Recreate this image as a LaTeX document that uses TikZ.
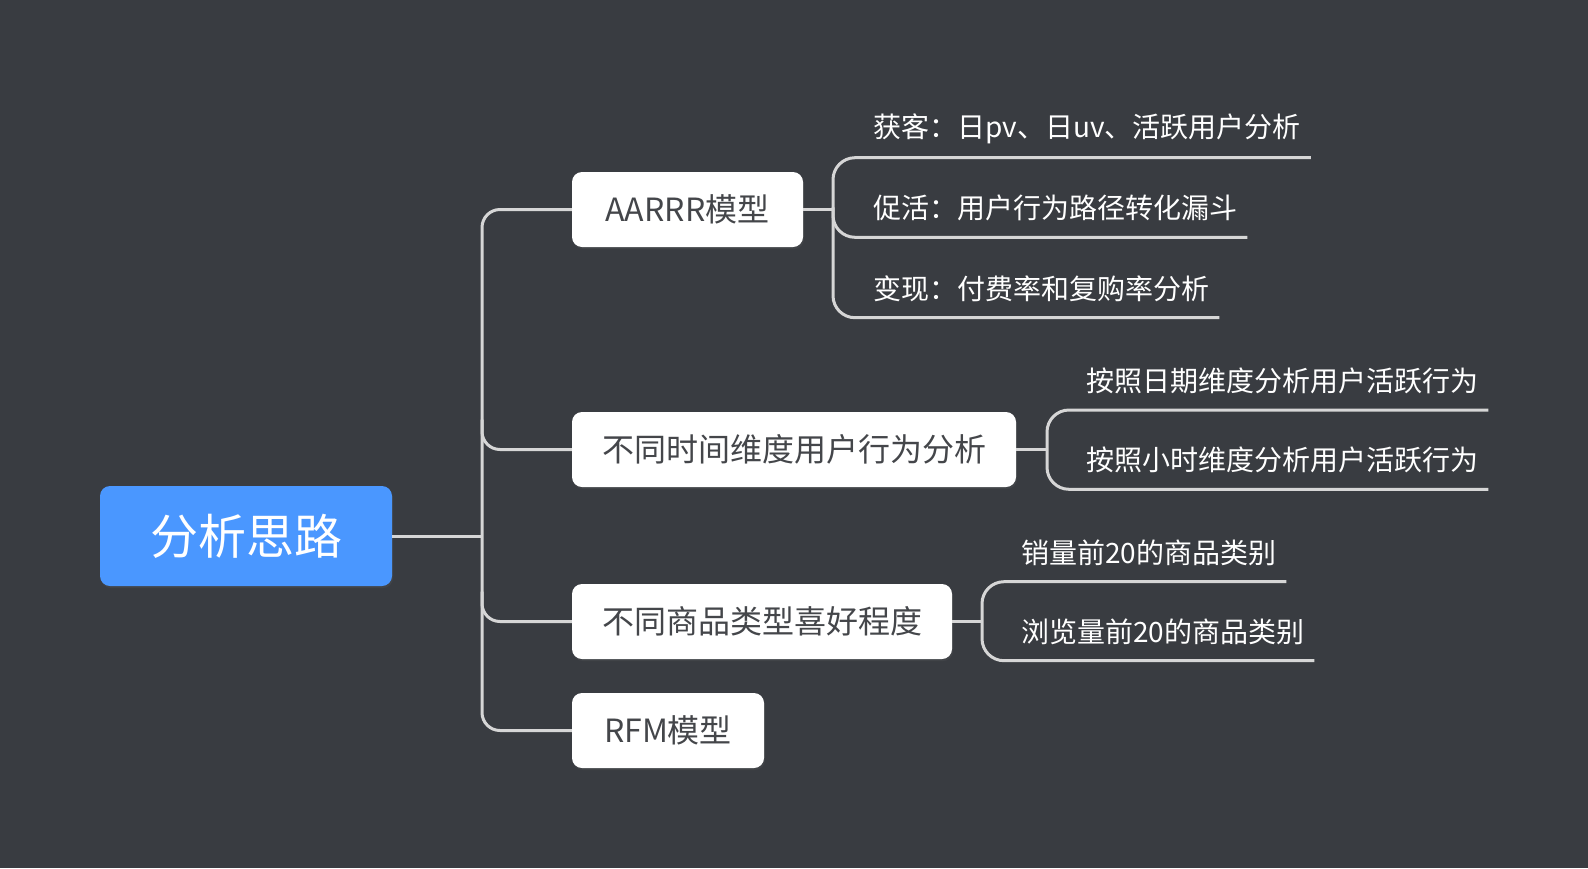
\documentclass[tikz,border=0pt]{standalone}
\usepackage{fontspec}
\setmainfont{Noto Sans CJK SC}
\usetikzlibrary{shadows}
\definecolor{bgcol}{RGB}{57,60,65}
\definecolor{rootblue}{RGB}{74,151,255}
\definecolor{linegray}{RGB}{214,214,214}
\definecolor{boxtext}{RGB}{68,70,74}
\begin{document}
\begin{tikzpicture}[x=1pt,y=-1pt,
  conn/.style={draw=linegray, line width=3pt},
  rootbox/.style={fill=rootblue, rounded corners=10pt, minimum width=292pt, minimum height=100pt, text=white, font=\fontsize{48}{56}\selectfont, inner sep=0pt, drop shadow={opacity=0.12, shadow xshift=1pt, shadow yshift=-2pt}},
  topic/.style={fill=white, rounded corners=10pt, minimum height=75pt, text=boxtext, font=\fontsize{32}{38}\selectfont, inner sep=0pt, drop shadow={opacity=0.12, shadow xshift=1pt, shadow yshift=-2pt}},
  leaf/.style={anchor=south west, inner xsep=10pt, inner ysep=0pt, minimum height=58pt, text=white, font=\fontsize{28}{34}\selectfont},
  ]
\fill[bgcol] (0,0) rectangle (1588,868);
\useasboundingbox (0,0) rectangle (1588,868);

% main nodes
\node[rootbox] (root) at (246,536) {分析思路};
\node[topic, minimum width=231pt] (aarrr) at (687.5,209.5) {AARRR模型};
\node[topic, minimum width=444pt] (time) at (794,449.5) {不同时间维度用户行为分析};
\node[topic, minimum width=380pt] (goods) at (762,621.5) {不同商品类型喜好程度};
\node[topic, minimum width=192pt] (rfm) at (668,730.5) {RFM模型};

% leaves
\node[leaf] (a1) at (863,157.7) {获客：日pv、日uv、活跃用户分析};
\node[leaf] (a2) at (863,237.3) {促活：用户行为路径转化漏斗};
\node[leaf] (a3) at (863,317.7) {变现：付费率和复购率分析};
\node[leaf] (t1) at (1076,410) {按照日期维度分析用户活跃行为};
\node[leaf] (t2) at (1076,489.3) {按照小时维度分析用户活跃行为};
\node[leaf] (g1) at (1011,581.7) {销量前20的商品类别};
\node[leaf] (g2) at (1011,660.7) {浏览量前20的商品类别};

% junction coordinates
\coordinate (trunk) at (482,536);
\coordinate (ba) at (833,209.5);
\coordinate (bt) at (1047,449.5);
\coordinate (bgd) at (982,621.5);

% trunk
\draw[conn] (root.east) -- (trunk);
\draw[conn, rounded corners=18pt] (aarrr.west) -- (aarrr.west -| trunk) -- (rfm.west -| trunk) -- (rfm.west);
\draw[conn, rounded corners=18pt] (time.west -| trunk) ++(0,-30) -- ++(0,30) -- (time.west);
\draw[conn, rounded corners=18pt] (goods.west -| trunk) ++(0,-30) -- ++(0,30) -- (goods.west);

% AARRR group
\draw[conn] (aarrr.east) -- (ba);
\draw[conn, rounded corners=22pt] (a1.south east) -- (a1.south -| ba) -- (a3.south -| ba) -- (a3.south east);
\draw[conn, rounded corners=22pt] (a2.south -| ba) ++(0,-30) -- ++(0,30) -- (a2.south east);

% time group
\draw[conn] (time.east) -- (bt);
\draw[conn, rounded corners=22pt] (t1.south east) -- (t1.south -| bt) -- (t2.south -| bt) -- (t2.south east);

% goods group
\draw[conn] (goods.east) -- (bgd);
\draw[conn, rounded corners=22pt] (g1.south east) -- (g1.south -| bgd) -- (g2.south -| bgd) -- (g2.south east);
\end{tikzpicture}
\end{document}
